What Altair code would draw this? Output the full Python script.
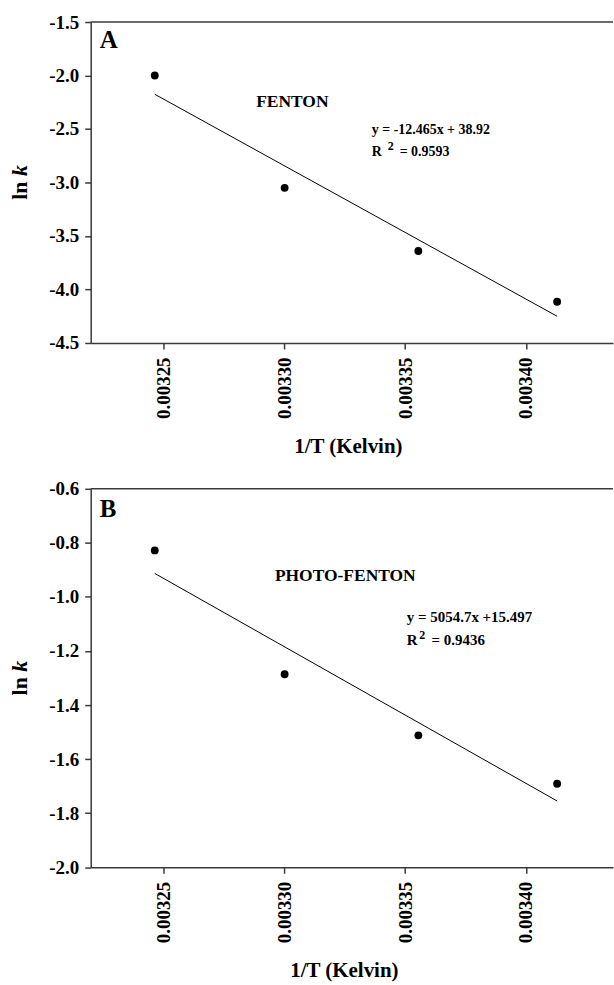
import altair as alt
import pandas as pd

# ---- data ----
inv_T = [0.0032465, 0.0033002, 0.0033555, 0.0034129]
lnk_fenton = [-2.00, -3.05, -3.64, -4.115]
lnk_photo = [-0.828, -1.286, -1.512, -1.691]

x_ticks = [0.00325, 0.00330, 0.00335, 0.00340]
y_ticks_a = [-1.5, -2.0, -2.5, -3.0, -3.5, -4.0, -4.5]
y_ticks_b = [-0.6, -0.8, -1.0, -1.2, -1.4, -1.6, -1.8, -2.0]
x_domain = [0.00322, 0.003436]
y_domain_a = [-4.5, -1.5]
y_domain_b = [-2.0, -0.6]

FONT = "Liberation Serif"
W = 524
AXIS_COLOR = "#3a3a3a"


def txt(s, x, y, size, style="normal", angle=0, align="left"):
    return alt.Chart(pd.DataFrame({"t": [s]})).mark_text(
        font=FONT, fontWeight="bold", fontSize=size, fontStyle=style,
        align=align, baseline="alphabetic", angle=angle, color="black",
    ).encode(x=alt.value(x), y=alt.value(y), text="t:N")


def panel(yvals, y_domain, y_ticks, height, letter, label, label_xy, label_size,
          eq, eq_xy, eq_size, r2, r2_x, title_x):
    df = pd.DataFrame({"x": inv_T, "y": yvals})
    xenc = alt.X(
        "x:Q",
        scale=alt.Scale(domain=x_domain, nice=False, zero=False),
        axis=alt.Axis(
            values=x_ticks, format=".5f", labelAngle=270, labelPadding=8,
            labelFont=FONT, labelFontWeight="bold", labelFontSize=19,
            title="1/T (Kelvin)", titleX=title_x, titleY=110,
            titleFont=FONT, titleFontWeight="bold",
            titleBaseline="alphabetic", titleFontSize=21,
        ),
    )
    yenc = alt.Y(
        "y:Q",
        scale=alt.Scale(domain=y_domain, nice=False, zero=False),
        axis=alt.Axis(
            values=y_ticks, title=None, labelPadding=6,
            labelFont=FONT, labelFontWeight="bold", labelFontSize=19,
            labelExpr="(datum.value < 0 ? '-' : '') + format(abs(datum.value), '.1f')",
        ),
    )
    base = alt.Chart(df)
    pts = base.mark_circle(size=62, color="black", opacity=1).encode(x=xenc, y=yenc)
    fit = base.transform_regression("x", "y").mark_line(
        color="black", strokeWidth=1
    ).encode(x=xenc, y=yenc)
    top = alt.Chart(pd.DataFrame({"t": [0]})).mark_rule(
        color=AXIS_COLOR, strokeWidth=1.5
    ).encode(x=alt.value(0), x2=alt.value(W), y=alt.value(0))

    cy = height / 2.0
    ln_size = 22
    ln_len = (0.278 + 0.556 + 0.25) * ln_size
    total = ln_len + 0.5 * ln_size
    y_start = cy + total / 2.0
    ylab1 = txt("ln ", -64, y_start, ln_size, angle=270)
    ylab2 = txt("k", -64, y_start - ln_len, ln_size, style="italic", angle=270)

    letter_t = txt(letter, 9, label_xy[2], 25)
    lab = txt(label, label_xy[0], label_xy[1], label_size)
    eq_t = txt(eq, eq_xy[0], eq_xy[1], eq_size)
    r_t = txt("R", eq_xy[0], eq_xy[1] + 22.5, eq_size)
    sup = txt("2", r2_x[0], eq_xy[1] + 16.5, 12)
    r2_t = txt(r2, r2_x[1], eq_xy[1] + 22.5, eq_size)

    return alt.layer(
        top, fit, pts, ylab1, ylab2, letter_t, lab, eq_t, r_t, sup, r2_t
    ).properties(width=W, height=height)


panel_a = panel(
    lnk_fenton, y_domain_a, y_ticks_a, 322, "A",
    "FENTON", (166, 85, 25.7), 17.5,
    "y = -12.465x + 38.92", (282, 112), 14,
    "= 0.9593", (298, 310), 258,
)
panel_b = panel(
    lnk_photo, y_domain_b, y_ticks_b, 379.7, "B",
    "PHOTO-FENTON", (184.8, 92.4, 28.7), 17.5,
    "y = 5054.7x +15.497", (317.2, 134), 15,
    "= 0.9436", (329.5, 342), 254,
)

chart = alt.vconcat(panel_a, panel_b, spacing=146.3, bounds="flush").properties(
    padding={"left": 8, "top": 11.5, "right": 0, "bottom": 0}
).configure(font=FONT).configure_view(stroke=None).configure_axis(
    grid=False,
    domainColor=AXIS_COLOR, domainWidth=1.5,
    tickColor=AXIS_COLOR, tickWidth=1.5, tickSize=6,
    labelFont=FONT, labelFontWeight="bold", labelFontSize=19, labelColor="black",
    titleFont=FONT, titleFontWeight="bold", titleColor="black",
)

chart.save("out.html", embed_options={"renderer": "svg", "actions": False})
